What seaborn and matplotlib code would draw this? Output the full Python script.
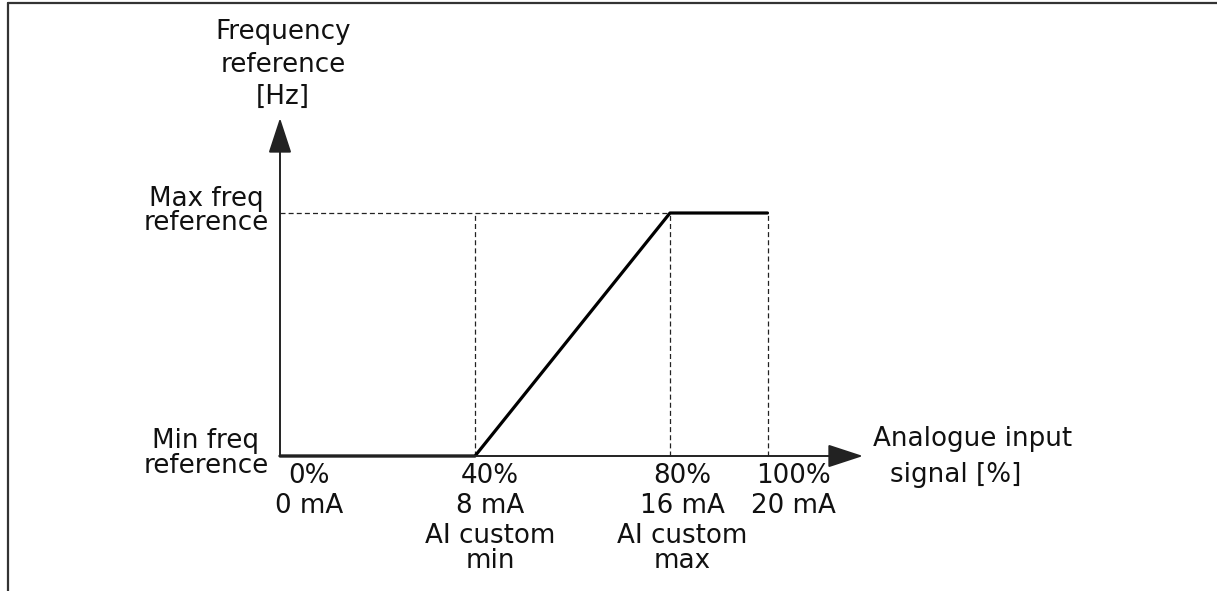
import matplotlib
matplotlib.use("Agg")
import seaborn as sns
from matplotlib import pyplot as plt
from matplotlib.lines import Line2D

# curve: frequency reference vs analogue input signal (0 = min freq, 1 = max freq)
SIGNAL_PCT = [0, 40, 80, 100]
FREQ_LEVEL = [0, 0, 1, 1]

TICK_PCT = [0, 40, 80, 100]
PCT_LABELS = ["0%", "40%", "80%", "100%"]
MA_LABELS = ["0 mA", "8 mA", "16 mA", "20 mA"]
CUSTOM_LABELS = {40: ["AI custom", "min"], 80: ["AI custom", "max"]}
GUIDE_PCT = [40, 80, 100]

Y_TITLE = ["Frequency", "reference", "[Hz]"]
X_TITLE = ["Analogue input", "signal [%]"]
MAX_LABEL = ["Max freq", "reference"]
MIN_LABEL = ["Min freq", "reference"]

INK = "#111111"
AXIS = "#222222"
FS = 18.8
PT = 72 / 100  # points per pixel at dpi 100

W, H = 1217, 591


def put(ax, text, xy, dx_px, dy_px, ha="center"):
    ax.annotate(text, xy=xy, xytext=(dx_px * PT, -dy_px * PT), textcoords="offset points",
                ha=ha, va="baseline", fontsize=FS, color=INK, annotation_clip=False)


def arrow(ax, start, tip):
    ax.annotate("", xy=tip, xytext=start, annotation_clip=False,
                arrowprops=dict(arrowstyle="-|>,head_length=22,head_width=7.2",
                                mutation_scale=1, lw=1.4, color=AXIS,
                                shrinkA=0, shrinkB=0))


sns.set_theme(style="white")
plt.rcParams["font.family"] = ["DejaVu Sans"]

fig = plt.figure(figsize=(W / 100, H / 100), dpi=100)
ax = fig.add_axes([280 / W, (H - 456) / H, 487.5 / W, 243 / H])
ax.set_xlim(0, 100)
ax.set_ylim(0, 1)
ax.axis("off")

# frame lines around the drawing
fig.add_artist(Line2D([8 / W, 8 / W], [0, 1 - 3 / H], transform=fig.transFigure, color="#333333", lw=1.6))
fig.add_artist(Line2D([8 / W, 1], [1 - 3 / H, 1 - 3 / H], transform=fig.transFigure, color="#333333", lw=1.6))

# dashed guide lines
for x in GUIDE_PCT:
    ax.plot([x, x], [0, 1], color=AXIS, lw=0.9, ls=(0, (4, 2.5)), clip_on=False)
ax.plot([0, GUIDE_PCT[1]], [1, 1], color=AXIS, lw=0.9, ls=(0, (4, 2.5)), clip_on=False)

# axes with arrows
y_tip = (456 - 118) / 243
x_tip = (863 - 280) / 4.875
arrow(ax, (0, 0), (0, y_tip))
arrow(ax, (0, 0), (x_tip, 0))

sns.lineplot(x=SIGNAL_PCT, y=FREQ_LEVEL, ax=ax, color="black", lw=2.3)
for line in ax.get_lines():
    line.set_clip_on(False)

# texts
for text, dy in zip(Y_TITLE, [-79, -46, -14]):
    put(ax, text, (0, y_tip), 3, dy)
for text, dy in zip(MAX_LABEL, [-7.5, 17.5]):
    put(ax, text, (0, 1), -74, dy)
for text, dy in zip(MIN_LABEL, [-8, 17]):
    put(ax, text, (0, 0), -74, dy)

shift = {0: 29, 40: 15, 80: 12, 100: 26}
for x, pct, ma in zip(TICK_PCT, PCT_LABELS, MA_LABELS):
    put(ax, pct, (x, 0), shift[x], 26.7)
    put(ax, ma, (x, 0), shift[x], 56.7)
    for text, dy in zip(CUSTOM_LABELS.get(x, []), [86.7, 112]):
        put(ax, text, (x, 0), shift[x], dy)

put(ax, X_TITLE[0], (x_tip, 0), 10, -10, ha="left")
put(ax, X_TITLE[1], (x_tip, 0), 27, 26, ha="left")

fig.savefig("out.png", dpi=100, facecolor="white")
